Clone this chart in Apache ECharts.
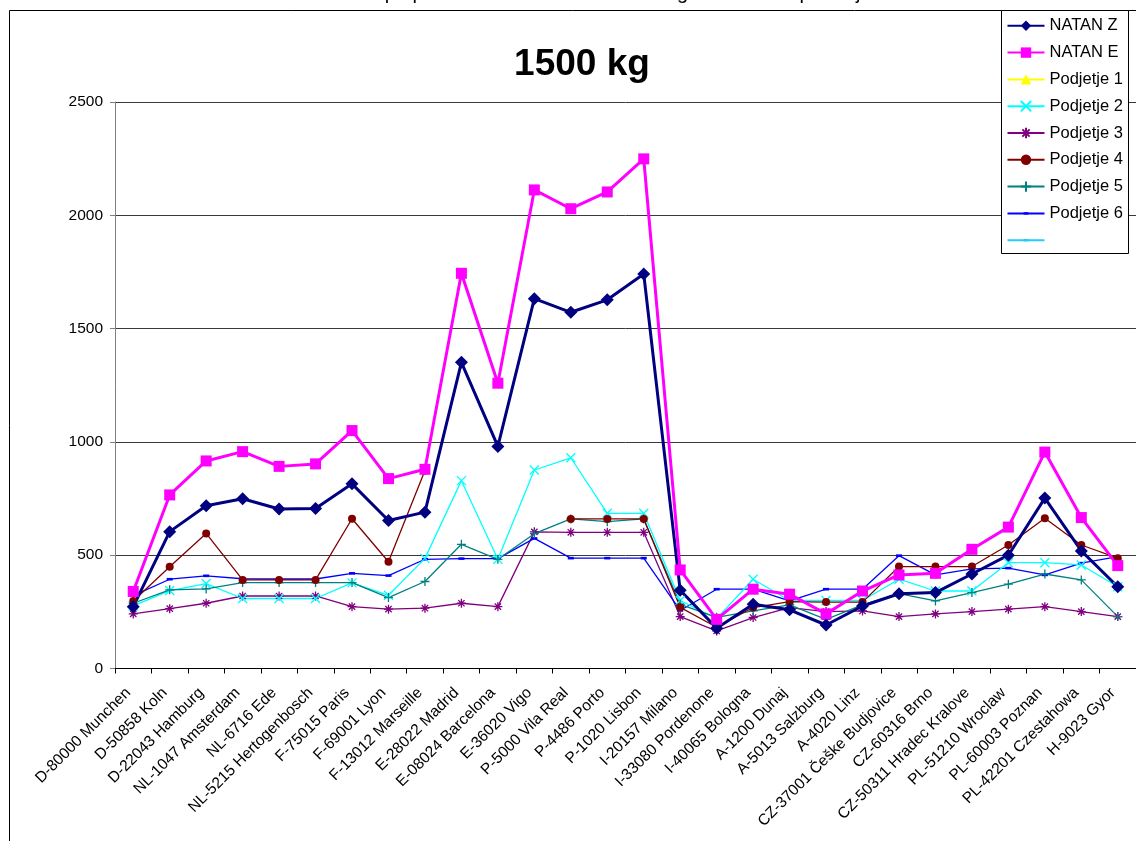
<!DOCTYPE html>
<html>
<head>
<meta charset="utf-8">
<title>1500 kg</title>
<script src="https://cdn.jsdelivr.net/npm/echarts@6/dist/echarts.min.js"></script>
<style>
  html, body { margin: 0; padding: 0; background: #ffffff; }
  #chart { width: 1136px; height: 841px; }
</style>
</head>
<body>
<div id="chart"></div>
<script>
// Destinations along the category axis
const categories = [
  'D-80000 Munchen', 'D-50858 Koln', 'D-22043 Hamburg', 'NL-1047 Amsterdam',
  'NL-6716 Ede', 'NL-5215 Hertogenbosch', 'F-75015 Paris', 'F-69001 Lyon',
  'F-13012 Marseille', 'E-28022 Madrid', 'E-08024 Barcelona', 'E-36020 Vigo',
  'P-5000 Vila Real', 'P-4486 Porto', 'P-1020 Lisbon', 'I-20157 Milano',
  'I-33080 Pordenone', 'I-40065 Bologna', 'A-1200 Dunaj', 'A-5013 Salzburg',
  'A-4020 Linz', 'CZ-37001 Češke Budjovice', 'CZ-60316 Brno', 'CZ-50311 Hradec Kralove',
  'PL-51210 Wroclaw', 'PL-60003 Poznan', 'PL-42201 Czestahowa', 'H-9023 Gyor'
];

// Prices per destination (1500 kg shipment)
const natanZ = [273, 604, 718, 749, 704, 706, 815, 653, 690, 1351, 980, 1632, 1572, 1627,
  1741, 345, 178, 284, 259, 192, 276, 330, 335, 417, 500, 752, 519, 361];
const natanE = [340, 766, 916, 957, 892, 903, 1050, 838, 879, 1744, 1259, 2112, 2029, 2103,
  2249, 435, 217, 350, 328, 241, 342, 413, 420, 526, 624, 955, 666, 454];
const podjetje1 = [null, null, null, null, null, null, null, null, null, null, null, null, null, null,
  null, null, null, null, null, null, null, null, null, null, null, null, null, null];
const podjetje2 = [276, 344, 375, 309, 309, 309, 378, 323, 486, 829, 482, 876, 930, 685,
  685, 300, 220, 394, 300, 300, 300, 394, 342, 342, 467, 467, 457, 361];
const podjetje3 = [241, 264, 288, 320, 320, 320, 273, 262, 266, 288, 273, 603, 601, 601,
  601, 229, 166, 225, 269, 251, 254, 229, 241, 251, 262, 273, 251, 229];
const podjetje4 = [298, 449, 596, 391, 391, 391, 661, 471, 874, null, null, null, 660, 660,
  660, 270, 182, 269, 295, 293, 293, 450, 450, 450, 545, 663, 545, 487];
const podjetje5 = [288, 347, 351, 379, 379, 379, 379, 313, 384, 548, 482, 595, 660, 648,
  660, 283, 226, 254, 281, 217, 281, 330, 298, 335, 372, 417, 391, 229];
const podjetje6 = [322, 394, 409, 396, 395, 395, 420, 410, 482, 485, 485, 574, 487, 487,
  487, 256, 350, 350, 298, 350, 350, 498, 413, 440, 443, 413, 465, 494];
const blankSeries = [];

const yTicks = { min: 0, max: 2500, step: 500 };

const FONT = 'Arial, "Liberation Sans", sans-serif';

// Stroked marker shapes
const crossPath = 'path://M0,0L10,10M10,0L0,10';
const starPath = 'path://M5,0L5,10M0,5L10,5M1.5,1.5L8.5,8.5M8.5,1.5L1.5,8.5';
const plusPath = 'path://M5,0L5,10M0,5L10,5';
// small dash, padded by bare move-to points so it stays small inside a square box
const dashPath = 'path://M-4,-5M0,0L7,0L7,3L0,3ZM11,8';

function lineSeries(name, data, color, width, symbol, size, stroked) {
  return {
    name: name,
    type: 'line',
    data: data,
    color: color,
    symbol: symbol,
    symbolSize: size,
    symbolKeepAspect: true,
    showAllSymbol: true,
    connectNulls: false,
    silent: true,
    z: 3,
    lineStyle: { color: color, width: width },
    itemStyle: stroked
      ? { color: color, borderColor: color, borderWidth: 1.3 }
      : { color: color, borderWidth: 0 },
    emphasis: { disabled: true }
  };
}

const series = [
  lineSeries('Podjetje 1', podjetje1, '#FFFF00', 1.3, 'triangle', 9, false),
  lineSeries('Podjetje 3', podjetje3, '#800080', 1.3, starPath, 9, true),
  lineSeries('Podjetje 6', podjetje6, '#0000FF', 1.3, dashPath, 13, false),
  lineSeries('Podjetje 2', podjetje2, '#00FFFF', 1.3, crossPath, 9, true),
  lineSeries('Podjetje 5', podjetje5, '#008080', 1.3, plusPath, 9, true),
  lineSeries('Podjetje 4', podjetje4, '#800000', 1.3, 'circle', 8, false),
  lineSeries(' ', blankSeries, '#22CCFF', 1.3, dashPath, 13, false),
  lineSeries('NATAN Z', natanZ, '#000080', 3, 'diamond', 13, false),
  lineSeries('NATAN E', natanE, '#FF00FF', 3, 'rect', 11, false)
];

const legendOrder = ['NATAN Z', 'NATAN E', 'Podjetje 1', 'Podjetje 2', 'Podjetje 3',
  'Podjetje 4', 'Podjetje 5', 'Podjetje 6', ' '];

const chart = echarts.init(document.getElementById('chart'), null, { renderer: 'canvas' });

chart.setOption({
  animation: false,
  backgroundColor: '#ffffff',
  textStyle: { fontFamily: FONT },
  grid: { left: 115, top: 102, width: 1025, height: 566.5, containLabel: false },
  xAxis: {
    type: 'category',
    data: categories,
    boundaryGap: true,
    axisLine: { show: true, lineStyle: { color: '#000000', width: 1 } },
    axisTick: { show: true, inside: false, length: 5, lineStyle: { color: '#000000' } },
    axisLabel: {
      interval: 0, rotate: 45, margin: 17, padding: [0, 7, 0, 0],
      color: '#000000', fontSize: 15.5, fontFamily: FONT
    },
    splitLine: { show: false }
  },
  yAxis: {
    type: 'value',
    min: yTicks.min, max: yTicks.max, interval: yTicks.step,
    axisLine: { show: true, lineStyle: { color: '#808080', width: 1 } },
    axisTick: { show: true, inside: false, length: 5, lineStyle: { color: '#808080' } },
    axisLabel: {
      margin: 12, color: '#000000', fontSize: 15.5, fontFamily: FONT,
      formatter: function (v) { return String(v); }
    },
    splitLine: { show: true, lineStyle: { color: '#3a3a3a', width: 1 } }
  },
  legend: {
    data: legendOrder,
    orient: 'vertical',
    left: 1006.5,
    top: 17.3,
    padding: 0,
    z: 20,
    itemWidth: 37,
    itemHeight: 13,
    itemGap: 9.8,
    selectedMode: false,
    textStyle: { fontSize: 16.5, color: '#000000', fontFamily: FONT, lineHeight: 16.5 }
  },
  graphic: [
    // frame of the chart area
    { type: 'line', z: 10, shape: { x1: 9.5, y1: 10.5, x2: 1136, y2: 10.5 },
      style: { stroke: '#000000', lineWidth: 1 } },
    { type: 'line', z: 10, shape: { x1: 9.5, y1: 10.5, x2: 9.5, y2: 841 },
      style: { stroke: '#000000', lineWidth: 1 } },
    // legend box
    { type: 'rect', z: 15, shape: { x: 1001.5, y: 10.5, width: 127, height: 243 },
      style: { fill: '#ffffff', stroke: '#000000', lineWidth: 1 } },
    // sheet heading above the chart frame
    { type: 'text', z: 10, left: 318, top: -17,
      style: { text: 'Stroški po posameznih mestih za 1500 kg – tabelarna primerjava',
        font: '20px ' + FONT, fill: '#000000' } },
    // chart title
    { type: 'text', z: 10, x: 582, y: 46,
      style: { text: '1500 kg', font: 'bold 37px ' + FONT, fill: '#000000',
        align: 'center', verticalAlign: 'top' } }
  ],
  series: series
});
</script>
</body>
</html>
